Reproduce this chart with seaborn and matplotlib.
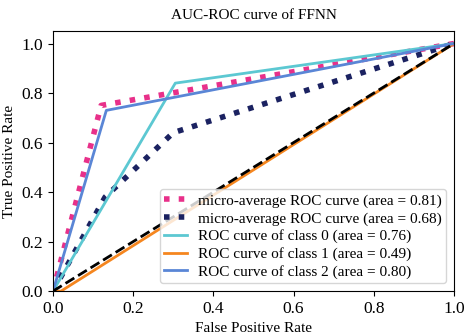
import matplotlib
matplotlib.use("Agg")
import matplotlib.pyplot as plt
import seaborn as sns
import pandas as pd

plt.rcParams['font.family'] = ['Liberation Serif', 'DejaVu Serif']
plt.rcParams['mathtext.fontset'] = 'stix'

# Data
micro1_fpr = [0.0, 0.12, 1.0]
micro1_tpr = [0.0, 0.75, 1.0]
micro2_fpr = [0.0, 0.13, 0.30, 1.0]
micro2_tpr = [0.0, 0.38, 0.64, 1.0]
class0_fpr = [0.0, 0.305, 1.0]
class0_tpr = [0.0, 0.84, 1.0]
class1_fpr = [0.0, 0.02, 1.0]
class1_tpr = [0.0, 0.0, 1.0]
class2_fpr = [0.0, 0.133, 1.0]
class2_tpr = [0.0, 0.73, 1.0]
labels = [
    "micro-average ROC curve (area = 0.81)",
    "micro-average ROC curve (area = 0.68)",
    "ROC curve of class 0 (area = 0.76)",
    "ROC curve of class 1 (area = 0.49)",
    "ROC curve of class 2 (area = 0.80)",
]
xticks = [0.0, 0.2, 0.4, 0.6, 0.8, 1.0]
yticks = [0.0, 0.2, 0.4, 0.6, 0.8, 1.0]

fig = plt.figure(figsize=(4.69, 3.35), dpi=100)
ax = fig.add_axes([0.113, 0.131, 0.855, 0.776])

series = [
    (micro1_fpr, micro1_tpr, '#e8308a', ':', 4),
    (micro2_fpr, micro2_tpr, '#1b2261', ':', 4),
    (class0_fpr, class0_tpr, '#5cc8d2', '-', 2),
    (class1_fpr, class1_tpr, '#f5861f', '-', 2),
    (class2_fpr, class2_tpr, '#5a86d6', '-', 2),
]
for (fx, fy, col, ls, lw), lab in zip(series, labels):
    df = pd.DataFrame({'fpr': fx, 'tpr': fy})
    sns.lineplot(data=df, x='fpr', y='tpr', sort=False, color=col,
                 linestyle=ls, linewidth=lw, label=lab, ax=ax)

sns.lineplot(x=[0, 1], y=[0, 1], color='black', linestyle='--', linewidth=2, ax=ax)

ax.set_xlim(0.0, 1.0)
ax.set_ylim(0.0, 1.05)
ax.set_xticks(xticks)
ax.set_yticks(yticks)
ax.tick_params(labelsize=12.5)
ax.set_xlabel('False Positive Rate', fontsize=11)
ax.set_ylabel('True Positive Rate', fontsize=11)
ax.set_title('AUC-ROC curve of FFNN', fontsize=11, pad=9)
ax.legend(loc='lower right', fontsize=11, handlelength=1.5,
          borderpad=0.3, labelspacing=0.25, handletextpad=0.7)

fig.savefig('out.png', dpi=100)
